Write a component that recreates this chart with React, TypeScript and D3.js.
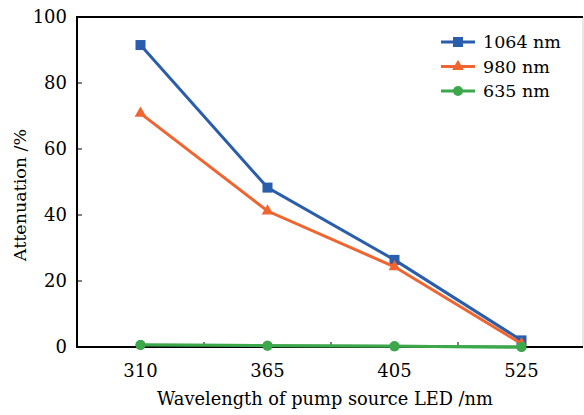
import React from "react";
import * as d3 from "d3";

const categories = ["310", "365", "405", "525"];
const yTicks = [0, 20, 40, 60, 80, 100];
const s1064 = [91.5, 48.3, 26.4, 2.0];
const s980 = [70.8, 41.2, 24.3, 1.0];
const s635 = [0.6, 0.4, 0.2, 0.0];
const seriesNames = ["1064 nm", "980 nm", "635 nm"];
const xTitle = "Wavelength of pump source LED /nm";
const yTitle = "Attenuation /%";

const W = 584, H = 415;
const L = 77, R = 585, T = 17, B = 347;
const FONT = "DejaVu Serif";

export default function App() {
  const x = d3.scaleBand<string>().domain(categories).range([L, R]);
  const xc = (c: string) => (x(c) as number) + x.bandwidth() / 2;
  const y = d3.scaleLinear().domain([0, 100]).range([B, T]);
  const line = d3.line<[number, number]>().x(d => d[0]).y(d => d[1]);
  const series = [
    { name: seriesNames[0], vals: s1064, color: "#2A5DAB", marker: "square" },
    { name: seriesNames[1], vals: s980, color: "#F0642F", marker: "triangle" },
    { name: seriesNames[2], vals: s635, color: "#3DA74B", marker: "circle" },
  ];
  const marker = (m: string, cx: number, cy: number, color: string, key: any) => {
    if (m === "square") return <rect key={key} x={cx - 5} y={cy - 5} width={10} height={10} fill={color} />;
    if (m === "triangle") {
      const p = d3.symbol().type(d3.symbolTriangle).size(60)();
      return <path key={key} d={p as string} transform={`translate(${cx},${cy})`} fill={color} />;
    }
    return <circle key={key} cx={cx} cy={cy} r={5} fill={color} />;
  };
  const boundaries = categories.slice(1).map(c => x(c) as number);
  const ts = { fontFamily: FONT };
  return (
    <svg width={W} height={H} style={{ position: "absolute", left: 0, top: 0 }}>
      <rect width={W} height={H} fill="#fff" />
      <line x1={583} x2={583} y1={T} y2={B} stroke="#cfcfcf" strokeWidth={1} />
      {yTicks.map(t => (
        <g key={t}>
          <line x1={L} x2={L + 5} y1={y(t)} y2={y(t)} stroke="#000" strokeWidth={1} />
          <text style={ts} x={67} y={y(t) + 6} textAnchor="end" fontSize={18}>{t}</text>
        </g>
      ))}
      {boundaries.map((b, i) => (
        <line key={i} x1={b} x2={b} y1={B} y2={B - 5} stroke="#000" strokeWidth={1} />
      ))}
      {categories.map(c => (
        <text style={ts} key={c} x={xc(c)} y={377} textAnchor="middle" fontSize={18}>{c}</text>
      ))}
      {series.map((s, si) => (
        <g key={si}>
          <path d={line(s.vals.map((v, i) => [xc(categories[i]), y(v)]) as any) as string}
            fill="none" stroke={s.color} strokeWidth={3} />
          {s.vals.map((v, i) => marker(s.marker, xc(categories[i]), y(v), s.color, i))}
        </g>
      ))}
      <line x1={L} x2={583} y1={T} y2={T} stroke="#000" strokeWidth={2} />
      <line x1={L} x2={L} y1={T - 1} y2={B + 1} stroke="#000" strokeWidth={2} />
      <line x1={L} x2={583} y1={B} y2={B} stroke="#000" strokeWidth={2} />
      <path d={line(s635.map((v, i) => [xc(categories[i]), y(v)]) as any) as string}
        fill="none" stroke={series[2].color} strokeWidth={3} />
      {s635.map((v, i) => marker("circle", xc(categories[i]), y(v), series[2].color, "g" + i))}
      {series.map((s, i) => {
        const ly = 42 + i * 24.5;
        return (
          <g key={i}>
            <line x1={441} x2={475} y1={ly} y2={ly} stroke={s.color} strokeWidth={3} />
            {marker(s.marker, 458, ly, s.color, "l")}
            <text style={ts} x={483} y={ly + 6} fontSize={17.5}>{s.name}</text>
          </g>
        );
      })}
      <text style={ts} x={325} y={405} textAnchor="middle" fontSize={17.8}>{xTitle}</text>
      <text style={ts} transform={`translate(26, 195) rotate(-90)`} textAnchor="middle" fontSize={17.5}>{yTitle}</text>
    </svg>
  );
}
